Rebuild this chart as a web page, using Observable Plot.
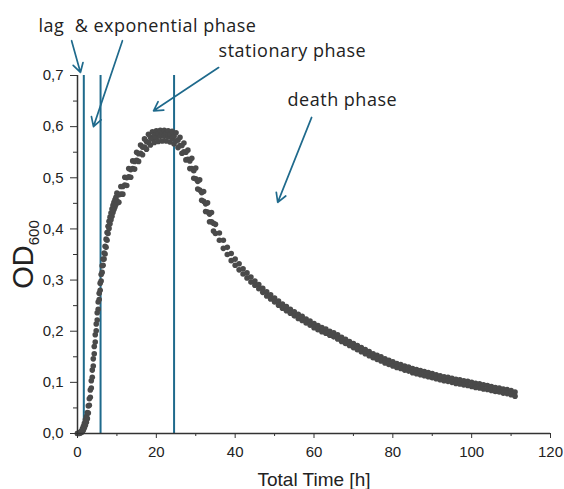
<!DOCTYPE html>
<html>
<head>
<meta charset="utf-8">
<script src="https://cdn.jsdelivr.net/npm/d3@7"></script>
<script src="https://cdn.jsdelivr.net/npm/@observablehq/plot@0.6"></script>
<style>
  html, body { margin: 0; padding: 0; background: #fff; }
  svg { display: block; }
  .anno text { letter-spacing: 0.5px; }
</style>
</head>
<body>
<div id="chart"></div>
<script>
// ---- Data ----
// Sampling grid of the plate reader (hours)
const hoursRise  = d3.range(0, 10, 0.25);   // 40 readings
const hoursPeak  = d3.range(10, 35, 0.5);   // 50 readings
const hoursDeath = d3.range(35, 112, 1);    // 77 readings

// Replicate A
const odRiseA = [0.000,0.001,0.002,0.003,0.005,0.009,0.014,0.020,0.027,0.033,
  0.041,0.054,0.068,0.085,0.103,0.124,0.146,0.170,0.193,0.214,
  0.236,0.257,0.274,0.294,0.311,0.328,0.341,0.353,0.366,0.380,
  0.393,0.405,0.415,0.423,0.431,0.439,0.446,0.452,0.457,0.462];
const odPeakA = [0.470,0.467,0.483,0.483,0.501,0.500,0.518,0.516,0.533,0.532,
  0.550,0.547,0.564,0.560,0.576,0.571,0.585,0.579,0.590,0.584,
  0.592,0.586,0.593,0.587,0.593,0.587,0.592,0.585,0.591,0.581,
  0.588,0.574,0.579,0.563,0.568,0.550,0.554,0.533,0.538,0.514,
  0.519,0.493,0.496,0.471,0.473,0.449,0.451,0.429,0.432,0.411];
const odDeathA = [0.409,0.392,0.378,0.364,0.352,0.341,0.332,0.322,0.314,0.306,
  0.298,0.291,0.284,0.277,0.271,0.265,0.259,0.253,0.248,0.243,
  0.238,0.233,0.229,0.224,0.220,0.215,0.211,0.207,0.204,0.200,
  0.197,0.193,0.188,0.184,0.180,0.176,0.172,0.168,0.164,0.160,
  0.156,0.153,0.150,0.146,0.143,0.140,0.137,0.135,0.132,0.130,
  0.127,0.125,0.123,0.121,0.119,0.117,0.115,0.113,0.111,0.110,
  0.108,0.106,0.105,0.103,0.102,0.100,0.098,0.097,0.095,0.094,
  0.092,0.090,0.089,0.087,0.086,0.084,0.081];

// Replicate B
const odRiseB = [0.000,0.000,0.000,0.001,0.002,0.004,0.007,0.011,0.016,0.022,
  0.029,0.040,0.055,0.071,0.089,0.110,0.132,0.156,0.179,0.201,
  0.222,0.243,0.262,0.280,0.298,0.315,0.329,0.341,0.351,0.364,
  0.378,0.391,0.401,0.410,0.418,0.425,0.432,0.438,0.443,0.448];
const odPeakB = [0.455,0.452,0.468,0.468,0.486,0.485,0.502,0.501,0.518,0.517,
  0.534,0.532,0.548,0.545,0.560,0.556,0.569,0.564,0.576,0.569,
  0.579,0.571,0.581,0.572,0.581,0.572,0.580,0.570,0.577,0.566,
  0.572,0.559,0.563,0.548,0.551,0.535,0.536,0.518,0.518,0.499,
  0.498,0.478,0.476,0.456,0.454,0.434,0.433,0.414,0.414,0.396];
const odDeathB = [0.391,0.378,0.362,0.350,0.338,0.329,0.320,0.312,0.304,0.296,
  0.290,0.283,0.276,0.269,0.263,0.257,0.251,0.245,0.240,0.235,
  0.230,0.225,0.221,0.216,0.212,0.207,0.203,0.199,0.196,0.192,
  0.189,0.185,0.180,0.176,0.172,0.168,0.164,0.160,0.156,0.152,
  0.148,0.145,0.142,0.138,0.135,0.132,0.129,0.127,0.124,0.122,
  0.119,0.117,0.115,0.113,0.111,0.109,0.107,0.105,0.103,0.102,
  0.100,0.098,0.097,0.095,0.094,0.092,0.090,0.089,0.087,0.086,
  0.084,0.082,0.081,0.079,0.078,0.076,0.073];

// Phase boundaries (hours)
const phaseBoundaries = [1.6, 5.85, 24.5];

// Tick values
const xMajorTicks = [0, 20, 40, 60, 80, 100, 120];
const xMinorTicks = [10, 30, 50, 70, 90, 110];
const yMajorTicks = [0, 0.1, 0.2, 0.3, 0.4, 0.5, 0.6, 0.7];
const yMinorTicks = [0.05, 0.15, 0.25, 0.35, 0.45, 0.55, 0.65];

// Annotation labels (anchored in data coordinates)
const annotationLabels = ["lag\u00a0 & exponential phase", "stationary phase", "death phase"];
const annotationHours  = [-9.9, 35.8, 53.3];
const annotationOD     = [0.786, 0.7355, 0.641];

// Annotation arrows (tail -> head, data coordinates)
const arrowFromHours = [-1.5, 11.4, 35.8, 59.4];
const arrowFromOD    = [0.768, 0.768, 0.7155, 0.618];
const arrowToHours   = [0.75, 4.05, 19.3, 50.8];
const arrowToOD      = [0.706, 0.600, 0.631, 0.452];

// ---- Build tables ----
const hours = [...hoursRise, ...hoursPeak, ...hoursDeath];
const odA = [...odRiseA, ...odPeakA, ...odDeathA];
const odB = [...odRiseB, ...odPeakB, ...odDeathB];
const points = hours.flatMap((t, i) => [{t, od: odA[i]}, {t, od: odB[i]}]);
const annotations = annotationLabels.map((label, i) => ({label, t: annotationHours[i], od: annotationOD[i]}));
const arrows = arrowFromHours.map((_, i) => ({x1: arrowFromHours[i], y1: arrowFromOD[i], x2: arrowToHours[i], y2: arrowToOD[i]}));

const blue = "#1f6a8c";
const axisColor = "#333";
const fmtY = d => d.toFixed(1).replace(".", ",");

const chart = Plot.plot({
  width: 564,
  height: 489,
  marginLeft: 77,
  marginRight: 14,
  marginTop: 75,
  marginBottom: 56,
  style: {fontFamily: "'Liberation Sans', Arial, sans-serif", fontSize: "15px", color: "#222", background: "#fff", overflow: "visible"},
  x: {domain: [0, 120]},
  y: {domain: [0, 0.7]},
  marks: [
    Plot.ruleX(phaseBoundaries, {y1: 0, y2: 0.7, stroke: blue, strokeWidth: 2}),
    Plot.dot(points, {x: "t", y: "od", r: 2.8, fill: "#4a4a4a", stroke: "none"}),
    Plot.axisX({ticks: xMajorTicks, tickSize: 5, tickPadding: 8, tickFormat: d => String(d), label: null, stroke: axisColor}),
    Plot.axisX({ticks: xMinorTicks, tickSize: 3, tickFormat: () => "", label: null, stroke: axisColor}),
    Plot.axisY({ticks: yMajorTicks, tickSize: 7, tickPadding: 7, tickFormat: fmtY, label: null, stroke: axisColor}),
    Plot.axisY({ticks: yMinorTicks, tickSize: 4, tickFormat: () => "", label: null, stroke: axisColor}),
    Plot.ruleY([0], {stroke: axisColor, strokeWidth: 1.5}),
    Plot.ruleX([0], {y1: 0, y2: 0.7, stroke: axisColor, strokeWidth: 1.5}),
    Plot.arrow(arrows, {x1: "x1", y1: "y1", x2: "x2", y2: "y2", stroke: blue, strokeWidth: 1.7, headLength: 9}),
    Plot.text(annotations, {x: "t", y: "od", text: "label", textAnchor: "start", lineAnchor: "bottom",
      fontSize: 18, fontFamily: "'Open Sans', sans-serif", fill: "#222", className: "anno"}),
    Plot.text(["Total Time [h]"], {frameAnchor: "bottom", lineAnchor: "bottom", dy: 52, fontSize: 19, fill: "#222"}),
    Plot.text(["OD"], {frameAnchor: "left", rotate: -90, textAnchor: "middle", lineAnchor: "bottom", dx: -45, fontSize: 29, fill: "#222", className: "ylabel"})
  ]
});

// Subscript for OD600
d3.select(chart).selectAll(".ylabel text").each(function () {
  d3.select(this).append("tspan").attr("dy", 6).attr("font-size", 15).text("600");
});

document.getElementById("chart").appendChild(chart);
</script>
</body>
</html>
